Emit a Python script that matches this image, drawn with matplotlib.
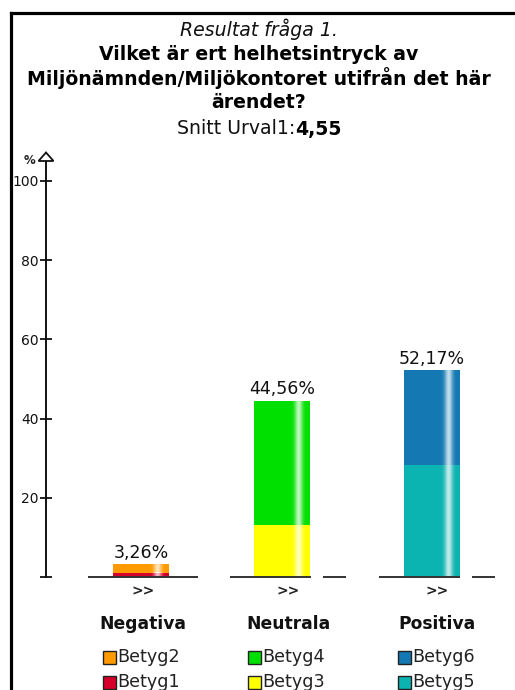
import numpy as np
import matplotlib
matplotlib.use("Agg")
import matplotlib.pyplot as plt
from matplotlib.patches import Polygon, Rectangle

# ---- data -------------------------------------------------------------
groups = ["Negativa", "Neutrala", "Positiva"]
# stacked components (bottom -> top) per group, percent of answers
betyg_low = [1.09, 13.04, 28.26]    # Betyg1, Betyg3, Betyg5
betyg_high = [2.17, 31.52, 23.91]   # Betyg2, Betyg4, Betyg6
low_names = ["Betyg1", "Betyg3", "Betyg5"]
high_names = ["Betyg2", "Betyg4", "Betyg6"]
low_colors = ["#D6002A", "#FFFF00", "#0BB3B1"]
high_colors = ["#FF9A00", "#00E000", "#1479B2"]
yticks = [0, 20, 40, 60, 80, 100]
ytick_labels = ["", "20", "40", "60", "80", "100"]
mean_value = 4.55

# ---- layout (pixels) --------------------------------------------------
W, H = 515, 690
DPI = 100
Y0_PX, Y100_PX = 577, 181          # y pixel rows of 0 % and 100 %
AXIS_X = 46
bar_centers = [141, 282, 431.5]
label_centers = [143, 288, 437]
BAR_W = 56
baseline_segments = [(88, 198), (230, 311), (323, 346), (379, 460), (472, 495)]
legend_x = [103, 248, 398]

fig = plt.figure(figsize=(W / DPI, H / DPI), dpi=DPI)
fig.patch.set_facecolor("white")

# overlay axes in pixel coordinates for frame, titles and legend
ov = fig.add_axes([0, 0, 1, 1])
ov.set_xlim(0, W)
ov.set_ylim(H, 0)
ov.axis("off")

# chart axes: x in pixels, y in percent
ax = fig.add_axes([0, (H - Y0_PX) / H, 1, (Y0_PX - Y100_PX) / H])
ax.set_facecolor("none")
for s in ["top", "right", "bottom"]:
    ax.spines[s].set_visible(False)
ax.spines["left"].set_position(("data", AXIS_X))
ax.spines["left"].set_linewidth(1.4)
ax.spines["left"].set_color("#111111")
ax.set_xticks([])
ax.set_yticks(yticks)
ax.set_yticklabels(ytick_labels)
ax.tick_params(axis="y", direction="inout", length=9, width=1.3,
               colors="#111111", pad=1, labelsize=10)

px_per_unit = (Y0_PX - Y100_PX) / 100.0


def px_to_val(py):
    return (Y0_PX - py) / px_per_unit


# axis extension with a hollow arrow head
ax.plot([AXIS_X, AXIS_X], [100, px_to_val(160)], color="#111111",
        lw=1.4, clip_on=False, solid_capstyle="butt")
ax.add_patch(Polygon([[AXIS_X - 7.5, px_to_val(161)],
                      [AXIS_X + 7.5, px_to_val(161)],
                      [AXIS_X, px_to_val(152.5)]],
                     closed=True, facecolor="white", edgecolor="#111111",
                     lw=1.3, clip_on=False, zorder=5))
ax.text(AXIS_X - 11, px_to_val(161), "%", ha="right", va="center",
        fontsize=8.5, fontweight="bold", color="#222222")

# baseline pieces
for x0, x1 in baseline_segments:
    ax.plot([x0, x1], [0, 0], color="#333333", lw=1.4, clip_on=False,
            solid_capstyle="butt", zorder=4)

# glossy highlight profile across the bar width
t = np.linspace(0, 1, 200)
alpha = 0.75 * np.exp(-((t - 0.80) / 0.07) ** 2)
gloss = np.zeros((1, t.size, 4))
gloss[..., :3] = 1.0
gloss[0, :, 3] = alpha

for i, cx in enumerate(bar_centers):
    bottoms = [0, betyg_low[i]]
    heights = [betyg_low[i], betyg_high[i]]
    colors = [low_colors[i], high_colors[i]]
    for b, h, c in zip(bottoms, heights, colors):
        ax.bar(cx, h, width=BAR_W, bottom=b, color=c, edgecolor="none",
               zorder=2)
        ax.imshow(gloss, extent=(cx - BAR_W / 2, cx + BAR_W / 2, b, b + h),
                  aspect="auto", interpolation="bilinear", zorder=3)
    total = betyg_low[i] + betyg_high[i]
    ax.annotate(f"{total:.2f}%".replace(".", ","), (cx, total),
                xytext=(0, 1.5), textcoords="offset points",
                ha="center", va="bottom", fontsize=12.5, color="#111111")

ax.set_xlim(0, W)
ax.set_ylim(0, 100)

# frame
ov.plot([11, 11], [H, 12.5], color="black", lw=2.3, solid_capstyle="projecting")
ov.plot([11, W], [12.5, 12.5], color="black", lw=2.3, solid_capstyle="projecting")

# titles
TX = 259
TS = 13.6
ov.text(TX, 29, "Resultat fråga 1.", ha="center", va="center",
        fontsize=TS, style="italic", color="#111111")
ov.text(TX, 54, "Vilket är ert helhetsintryck av", ha="center", va="center",
        fontsize=TS, fontweight="bold", color="black")
ov.text(TX, 78.5, "Miljönämnden/Miljökontoret utifrån det här", ha="center",
        va="center", fontsize=TS, fontweight="bold", color="black")
ov.text(TX, 103, "ärendet?", ha="center", va="center", fontsize=TS,
        fontweight="bold", color="black")
t1 = ov.text(TX, 129, "Snitt Urval1:", ha="right", va="center",
             fontsize=TS, color="#111111")
t2 = ov.text(TX, 129, f"{mean_value:.2f}".replace(".", ","), ha="left",
             va="center", fontsize=TS, fontweight="bold", color="black")
fig.canvas.draw()
r = fig.canvas.get_renderer()
w1 = t1.get_window_extent(r).width
w2 = t2.get_window_extent(r).width
shift = (w1 - w2) / 2
t1.set_x(TX + shift)
t2.set_x(TX + shift)

# group labels
for gx, name in zip(label_centers, groups):
    ov.text(gx, 591, ">>", ha="center", va="center", fontsize=10,
            fontweight="bold", color="#222222")
    ov.text(gx, 624, name, ha="center", va="center", fontsize=12.3,
            fontweight="bold", color="#111111")

# legend
for lx, hn, hc, ln, lc in zip(legend_x, high_names, high_colors,
                              low_names, low_colors):
    for row_y, name, col in [(657, hn, hc), (682, ln, lc)]:
        ov.add_patch(Rectangle((lx, row_y - 6.5), 13, 13, facecolor=col,
                               edgecolor="#222222", lw=1.0))
        ov.text(lx + 14.5, row_y, name, ha="left", va="center",
                fontsize=12.6, color="#222222")

fig.savefig("out.png", dpi=DPI, facecolor="white")
